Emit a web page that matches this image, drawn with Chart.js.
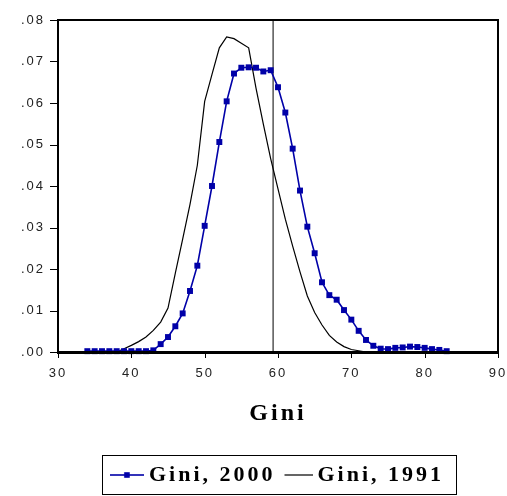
<!DOCTYPE html>
<html><head><meta charset="utf-8">
<script src="https://cdn.jsdelivr.net/npm/chart.js@4.4.1/dist/chart.umd.min.js"></script>
<style>html,body{margin:0;padding:0;background:#fff;}canvas{display:block;}</style>
</head><body><canvas id="c" width="507" height="496" style="width:507px;height:496px"></canvas>
<script>
// ---- data ----
const gini2000X = [34,35,36,37,38,39,40,41,42,43,44,45,46,47,48,49,50,51,52,53,54,55,56,57,58,59,60,61,62,63,64,65,66,67,68,69,70,71,72,73,74,75,76,77,78,79,80,81,82,83];
const gini2000Y = [0.0002,0.0002,0.0002,0.0002,0.0002,0.0002,0.0002,0.0002,0.0002,0.0004,0.0019,0.0036,0.0062,0.0093,0.0147,0.0208,0.0304,0.0400,0.0506,0.0604,0.0671,0.0685,0.0686,0.0685,0.0676,0.0679,0.0638,0.0577,0.0490,0.0389,0.0302,0.0238,0.0168,0.0137,0.0126,0.0101,0.0078,0.0051,0.0029,0.0015,0.0008,0.0007,0.0010,0.0011,0.0013,0.0012,0.0010,0.0007,0.0005,0.0002];
const gini1991X = [38,39,40,41,42,43,44,45,46,47,48,49,50,51,52,53,54,55,56,57,58,59,60,61,62,63,64,65,66,67,68,69,70,71,72];
const gini1991Y = [0.0000,0.0008,0.0016,0.0025,0.0036,0.0052,0.0072,0.0106,0.0190,0.0272,0.0356,0.0450,0.0604,0.0669,0.0733,0.0759,0.0755,0.0744,0.0733,0.0636,0.0549,0.0466,0.0393,0.0320,0.0255,0.0193,0.0135,0.0095,0.0065,0.0040,0.0024,0.0013,0.0006,0.0003,0.0000];
const refLineX = [59.33, 59.33];
const refLineY = [0, 0.08];
const seriesNames = ['Gini, 2000', 'Gini, 1991'];
const xTicks = [30, 40, 50, 60, 70, 80, 90];
const yTicks = [0, 0.01, 0.02, 0.03, 0.04, 0.05, 0.06, 0.07, 0.08];
const axisTitle = 'Gini';

// ---- styling ----
const BLUE = '#0000a8';
const LS = {tick: '2px', title: '3px', legend: '3px'};
const LEGEND_SHIFT = 2;

const SP = Chart.Scale.prototype;
const oLabels = SP.drawLabels, oTitle = SP.drawTitle;
SP.drawLabels = function (a) { this.ctx.letterSpacing = LS.tick; oLabels.call(this, a); this.ctx.letterSpacing = LS.legend; };
SP.drawTitle = function (a) { this.ctx.letterSpacing = LS.title; oTitle.call(this, a); this.ctx.letterSpacing = LS.legend; };

function makeIcon(withMarker) {
  const c = document.createElement('canvas');
  c.width = 34; c.height = 8;
  const g = c.getContext('2d');
  g.fillStyle = withMarker ? BLUE : '#000';
  if (withMarker) { g.fillRect(0, 3.2, 34, 1.6); g.fillRect(14.2, 1.2, 5.6, 5.6); }
  else { g.fillRect(6, 3.4, 28, 1.2); }
  return c;
}
const icons = [makeIcon(true), makeIcon(false)];

const pts = (xs, ys) => xs.map((x, i) => ({x: x, y: ys[i]}));

function drawFrame(chart) {
  const ctx = chart.ctx;
  const xs = chart.scales.x, ys = chart.scales.y;
  const L = Math.round(xs.getPixelForValue(xTicks[0]));
  const R = Math.round(xs.getPixelForValue(xTicks[xTicks.length - 1]));
  const T = Math.round(ys.getPixelForValue(yTicks[yTicks.length - 1]));
  const B = Math.round(ys.getPixelForValue(yTicks[0]));
  ctx.save();
  ctx.fillStyle = '#000';
  ctx.fillRect(L - 1, T - 1, R - L + 2, 2);
  ctx.fillRect(R - 1, T, 2, B - T);
  ctx.fillRect(L - 1, T, 2, B - T + 1);
  ctx.fillRect(L - 1, B - 1, R - L + 2, 3);
  yTicks.forEach(v => { const y = Math.round(ys.getPixelForValue(v)); ctx.fillRect(L - 8, y, 8, 1); });
  xTicks.forEach(v => { const x = Math.round(xs.getPixelForValue(v)); ctx.fillRect(x, B, 1, 6); });
  ctx.restore();
}

const spacingPlugin = {
  id: 'spacing',
  beforeUpdate(chart) { chart.ctx.letterSpacing = LS.legend; },
  beforeLayout(chart) { chart.ctx.letterSpacing = LS.legend; },
  afterLayout(chart) { const lg = chart.legend; if (lg) { lg.left += LEGEND_SHIFT; lg.right += LEGEND_SHIFT; } },
  beforeDraw(chart) { chart.ctx.letterSpacing = LS.legend; }
};
const framePlugin = {
  id: 'frame',
  beforeDatasetsDraw(chart) { drawFrame(chart); },
  afterDraw(chart) {
    drawFrame(chart);
    const ctx = chart.ctx;
    const lg = chart.legend;
    if (lg && lg.legendHitBoxes && lg.legendHitBoxes.length) {
      const hb = lg.legendHitBoxes;
      const l = Math.round(hb[0].left - 14), r = Math.round(hb[hb.length - 1].left + hb[hb.length - 1].width + 13);
      const t = Math.round(lg.top), b = Math.round(lg.bottom) - 1;
      ctx.save();
      ctx.fillStyle = '#000';
      ctx.fillRect(l, t, r - l, 1);
      ctx.fillRect(l, b - 1, r - l, 1);
      ctx.fillRect(l, t, 1, b - t);
      ctx.fillRect(r - 1, t, 1, b - t);
      ctx.restore();
    }
  }
};

new Chart(document.getElementById('c'), {
  type: 'line',
  data: {
    datasets: [
      {label: seriesNames[0], data: pts(gini2000X, gini2000Y), borderColor: BLUE, backgroundColor: BLUE,
       borderWidth: 1.6, pointStyle: 'rect', pointRadius: 4.2, pointBorderWidth: 0, pointBackgroundColor: BLUE, clip: false, tension: 0},
      {label: seriesNames[1], data: pts(gini1991X, gini1991Y), borderColor: '#000', borderWidth: 1.2, pointRadius: 0, tension: 0},
      {label: 'ref', data: pts(refLineX, refLineY), borderColor: '#000', borderWidth: 1, pointRadius: 0}
    ]
  },
  options: {
    responsive: false, devicePixelRatio: 1, animation: false,
    layout: {padding: {top: 20, right: 9, bottom: 0, left: 0}},
    plugins: {
      tooltip: {enabled: false},
      legend: {
        position: 'bottom', fullSize: false,
        labels: {
          usePointStyle: true, pointStyleWidth: 22, padding: 9, color: '#000',
          font: {family: '"Liberation Serif", "Times New Roman", serif', weight: 'bold', size: 22},
          generateLabels: () => seriesNames.map((n, i) => ({text: n, pointStyle: icons[i], fillStyle: 'transparent', strokeStyle: 'transparent', lineWidth: 0, hidden: false, datasetIndex: i, fontColor: '#000'}))
        }
      }
    },
    scales: {
      x: {
        type: 'linear', min: xTicks[0], max: xTicks[xTicks.length - 1],
        afterBuildTicks: s => { s.ticks = xTicks.map(v => ({value: v})); },
        afterFit: s => { s.height = 103; s.paddingRight = 0; },
        border: {display: false},
        grid: {display: true, drawOnChartArea: false, drawTicks: true, tickLength: 5, color: 'rgba(0,0,0,0)'},
        ticks: {padding: 9, color: '#222', maxRotation: 0, font: {family: '"Liberation Sans", Arial, sans-serif', size: 13}, callback: v => String(v)},
        title: {display: true, text: axisTitle, color: '#000', padding: {top: 0, bottom: 27},
                font: {family: '"Liberation Serif", "Times New Roman", serif', weight: 'bold', size: 24}}
      },
      y: {
        type: 'linear', min: yTicks[0], max: yTicks[yTicks.length - 1],
        afterBuildTicks: s => { s.ticks = yTicks.map(v => ({value: v})); },
        afterFit: s => { s.width = 58; },
        border: {display: false},
        grid: {display: true, drawOnChartArea: false, drawTicks: true, tickLength: 7, color: 'rgba(0,0,0,0)'},
        ticks: {padding: 6, color: '#222', font: {family: '"Liberation Sans", Arial, sans-serif', size: 13},
                callback: v => v.toFixed(2).replace(/^0/, '')}
      }
    }
  },
  plugins: [spacingPlugin, framePlugin]
});
</script></body></html>
